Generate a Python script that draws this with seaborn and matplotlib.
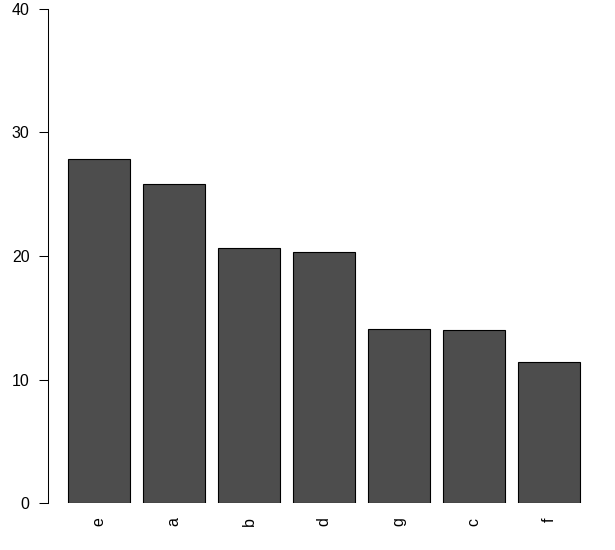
import matplotlib
matplotlib.use("Agg")
import matplotlib.pyplot as plt
import seaborn as sns
import pandas as pd

# values, already sorted descending
categories = ["e", "a", "b", "d", "g", "c", "f"]
values = [27.83, 25.83, 20.67, 20.30, 14.09, 14.01, 11.39]
y_ticks = [0, 10, 20, 30, 40]

sns.set_style("ticks")
plt.rcParams["font.family"] = ["Liberation Sans", "DejaVu Sans"]

df = pd.DataFrame({"name": categories, "value": values})

fig = plt.figure(figsize=(6.15, 5.5), dpi=100)
ax = fig.add_axes([47.5 / 615, 47 / 550, 553 / 615, 494 / 550])

sns.barplot(
    data=df, x="name", y="value", order=categories,
    color="#4d4d4d", saturation=1, edgecolor="black", linewidth=0.8,
    width=1 / 1.2, ax=ax,
)

ax.set_xlim(-0.69, 6.69)
ax.set_ylim(0, 40)
ax.set_yticks(y_ticks)
ax.set_yticklabels([str(t) for t in y_ticks])
ax.set_xlabel("")
ax.set_ylabel("")

for side in ["top", "right", "bottom"]:
    ax.spines[side].set_visible(False)
ax.spines["left"].set_bounds(0, 40)
ax.spines["left"].set_linewidth(0.75)
ax.spines["left"].set_color("black")

ax.tick_params(axis="y", length=6.5, width=0.75, pad=6.5, labelsize=11.5, colors="black")
ax.tick_params(axis="x", length=0, pad=10.5, labelsize=11.5, labelrotation=90, colors="black")
ax.grid(False)

fig.savefig("out.png", dpi=100)
